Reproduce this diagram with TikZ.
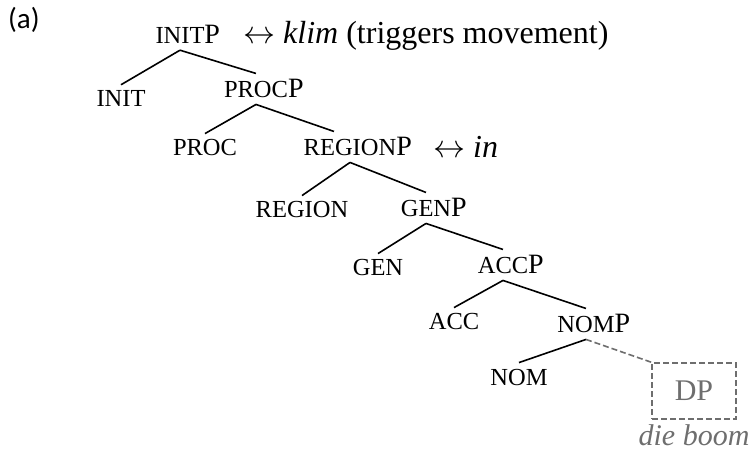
\RequirePackage{fix-cm}
\documentclass[tikz,border=0pt]{standalone}
\usepackage{fontspec}
\setmainfont{Liberation Serif}
\newfontfamily\tagfont{Carlito}
\usepackage{tikz}
\usetikzlibrary{positioning}

\definecolor{dpgray}{RGB}{110,110,110}

% category labels: small caps body, full-size P hanging to the right
\newcommand\catname[1]{{\fontsize{24.5}{24.5}\selectfont #1}}
\newcommand\phr[1]{\catname{#1}\rlap{\fontsize{28}{28}\selectfont P}}

\tikzset{
  cat/.style={anchor=base, inner sep=6pt},
  note/.style={anchor=base west, inner sep=0pt, font=\fontsize{32}{32}\selectfont},
  branch/.style={line width=1.6pt},
  moved/.style={line width=1.6pt, draw=dpgray, dash pattern=on 6pt off 3pt},
}

\begin{document}
\begin{tikzpicture}[x=1pt, y=-1pt]
  \useasboundingbox (0,0) rectangle (753,457);

  \node[anchor=base west, inner sep=0pt, font=\tagfont\fontsize{29}{29}\selectfont] (tag) at (8,29) {(a)};

  % spine of the tree
  \node[cat] (initP) at (180,44) {\phr{INIT}};
  \node[cat] (init) at (121,107) {\catname{INIT}};
  \node[cat] (procP) at (256,98) {\phr{PROC}};
  \node[cat] (proc) at (205,156) {\catname{PROC}};
  \node[cat] (regionP) at (350,156) {\phr{REGION}};
  \node[cat] (region) at (302,218) {\catname{REGION}};
  \node[cat] (genP) at (426,217) {\phr{GEN}};
  \node[cat] (gen) at (378,276) {\catname{GEN}};
  \node[cat] (accP) at (503,274) {\phr{ACC}};
  \node[cat] (acc) at (454,330) {\catname{ACC}};
  \node[cat] (nomP) at (586,333) {\phr{NOM}};
  \node[cat] (nom) at (519,385) {\catname{NOM}};

  % lexical items
  \node[note] (klim) at (243,44) {$\leftrightarrow$ \textit{klim} (triggers movement)};
  \node[note] (in) at (433,158) {$\leftrightarrow$ \textit{in}};

  % moved DP
  \node[draw=dpgray, dash pattern=on 6pt off 3pt, line width=1.6pt, minimum width=84pt, minimum height=56pt,
        text=dpgray, font=\fontsize{30}{30}\selectfont] (dp) at (694,391) {DP};
  \node[anchor=base, inner sep=0pt, text=dpgray, font=\fontsize{30}{30}\selectfont\itshape] (gloss) at (694,445) {die boom};

  % branches
  \foreach \a/\b in {initP/init, initP/procP, procP/proc, regionP/region, regionP/genP,
                     genP/gen, genP/accP, accP/acc, accP/nomP, nomP/nom} {
    \draw[branch] (\a.south) -- (\b.north);
  }
  \draw[branch] (procP.south) -- ([xshift=-16pt]regionP.north);
  \draw[moved] (nomP.south) -- (dp.north west);
\end{tikzpicture}
\end{document}
